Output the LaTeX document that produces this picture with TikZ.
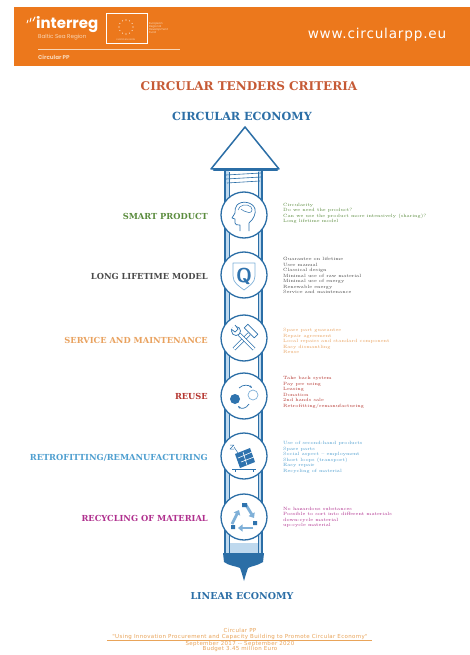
\documentclass[tikz,border=0pt]{standalone}
\usepackage{fontspec}
\newfontfamily\headfont{Poppins}
\newfontfamily\urlfont[LetterSpace=6]{DejaVu Sans}
\newfontfamily\footfont[LetterSpace=6]{DejaVu Sans}
\newfontfamily\labfont{DejaVu Serif}
\usetikzlibrary{arrows.meta}
\definecolor{hdorange}{HTML}{EC781C}
\definecolor{hdpale}{HTML}{F9D6B6}
\definecolor{ttlred}{HTML}{C65A35}
\definecolor{ecoblue}{HTML}{2B6EA6}
\definecolor{paleblue}{HTML}{BFD9EE}
\definecolor{iconblue}{HTML}{2F73AE}
\definecolor{liteblue}{HTML}{7FB0D8}
\definecolor{smartgreen}{HTML}{5B8C3E}
\definecolor{lifegray}{HTML}{4A4A4A}
\definecolor{servorange}{HTML}{E9A25F}
\definecolor{reusered}{HTML}{B5352F}
\definecolor{retroblue}{HTML}{4F9FD0}
\definecolor{recymag}{HTML}{B0308E}
\definecolor{footorange}{HTML}{E9A45A}
\begin{document}
\begin{tikzpicture}[x=1pt,y=-1pt,
    lab/.style={anchor=east,inner sep=0,text=#1,font=\labfont\bfseries\fontsize{8.3}{9}\selectfont},
    txt/.style={anchor=west,inner sep=0,align=left,text=#1,font=\fontsize{4.6}{5.5}\selectfont},
    ring/.style={circle,draw=ecoblue,line width=1.3pt,fill=white,minimum size=46pt,inner sep=0},
    wall/.style={draw=ecoblue,line width=1.5pt},
    thinwall/.style={draw=ecoblue,line width=0.6pt},
    icon/.style={draw=iconblue,line width=0.7pt,line join=round},
    recy/.style={draw=liteblue,line width=2.8pt,-{Triangle[length=4.5pt,width=7pt]}},
    foot/.style={inner sep=0,text=footorange,font=\footfont\fontsize{5.5}{5.5}\selectfont}]
  \useasboundingbox (0,0) rectangle (470,655);
  \fill[white] (0,0) rectangle (470,655);
  % header band
  \fill[hdorange] (14,7) rectangle (470,66);
  \draw[white,line width=0.9pt,line cap=round] (27,23) -- (28,20) (30,22) -- (31,18) (33,21) -- (35,17);
  \node[anchor=west,inner sep=0,text=white,font=\headfont\bfseries\fontsize{15}{15}\selectfont] (interreg) at (36,25) {interreg};
  \node[anchor=west,inner sep=0,text=hdpale,font=\headfont\fontsize{5.6}{6}\selectfont] (baltic) at (38,37) {Baltic Sea Region};
  \draw[white,line width=0.6pt] (106,13) rectangle (147,43);
  \foreach \a in {0,30,...,330}
    \fill[white,shift={(126,27)}] (\a:7) circle (0.55pt);
  \node[inner sep=0,text=hdpale,font=\headfont\fontsize{2.2}{2.4}\selectfont] (eu) at (126,40) {EUROPEAN UNION};
  \node[txt=hdpale,font=\headfont\fontsize{2.8}{3.2}\selectfont] (erdf) at (149,28) {European\\Regional\\Development\\Fund};
  \draw[hdpale,line width=0.4pt] (38,49) -- (180,49);
  \node[anchor=west,inner sep=0,text=hdpale,font=\headfont\bfseries\fontsize{5.6}{6}\selectfont] (cpp) at (38,57) {Circular PP};
  \node[inner sep=0,text=white,font=\urlfont\fontsize{13.6}{14}\selectfont] (url) at (377,35) {www.circularpp.eu};
  % titles
  \node[text=ttlred,font=\labfont\bfseries\fontsize{12}{13}\selectfont] (title) at (249,86) {CIRCULAR TENDERS CRITERIA};
  \node[text=ecoblue,font=\labfont\bfseries\fontsize{11.2}{12}\selectfont] (circ) at (242,116) {CIRCULAR ECONOMY};
  \node[text=ecoblue,font=\labfont\bfseries\fontsize{9.5}{11}\selectfont] (lin) at (242,596) {LINEAR ECONOMY};
  % shaft
  \fill[paleblue] (225,168) rectangle (229,553) (258,168) rectangle (262,553);
  \fill[paleblue] (229,543) rectangle (258,553);
  \draw[wall] (225,168) -- (225,554);
  \draw[wall] (262,168) -- (262,554);
  \draw[thinwall] (229,172) -- (229,553);
  \draw[thinwall] (258,172) -- (258,553);
  \fill[ecoblue] (223,553) -- (264,553) -- (263,562) .. controls (257,566) and (251,566) .. (248,568)
    -- (246,574) -- (244,581) -- (242,574) -- (240,568) .. controls (236,566) and (229,566) .. (224,562) -- cycle;
  % arrow head
  \draw[wall,fill=white,line join=round] (245,127) -- (279,169) -- (211,169) -- cycle;
  \draw[ecoblue,line width=2.6pt,line cap=round] (214,170) -- (277,170);
  \draw[thinwall] (226,175) -- (261,173) (226,179) -- (261,177) (227,183) -- (260,181);
  % rings
  \node[ring] (smart) at (244,215) {};
  \node[ring] (life) at (244,275) {};
  \node[ring] (serv) at (244,338) {};
  \node[ring] (reuse) at (244,396) {};
  \node[ring] (retro) at (244,456) {};
  \node[ring] (recy) at (244,517) {};
  % icons
  \begin{scope}[shift={(smart)}]
    \draw[icon] (5,16) -- (5,8) .. controls (10,4) and (12,-2) .. (11,-6) .. controls (9,-13) and (-2,-15) .. (-7,-10)
      .. controls (-9,-8) and (-9,-5) .. (-9,-2) -- (-12,3) -- (-9,4) -- (-9,8) .. controls (-9,10) and (-7,10) .. (-4,10) -- (-4,16);
    \draw[icon,line width=0.5pt] (-6,-5) .. controls (-5,-10) and (3,-12) .. (7,-8) .. controls (10,-4) and (6,-1) .. (3,-3)
      .. controls (1,-5) and (-2,-3) .. (-3,-6);
  \end{scope}
  \begin{scope}[shift={(life)}]
    \draw[icon,draw=liteblue] (-11,-12) -- (11,-12) -- (11,1) .. controls (11,8) and (5,11) .. (0,15)
      .. controls (-5,11) and (-11,8) .. (-11,1) -- cycle;
    \node[inner sep=0,text=iconblue,font=\sffamily\bfseries\fontsize{20}{20}\selectfont] (qmark) at (0,1) {Q};
  \end{scope}
  \begin{scope}[shift={(serv)}]
    \draw[icon,double=white,double distance=2.4pt,line width=0.6pt] (-10,11) -- (5,-4);
    \draw[icon,fill=white] (3.8,-13.8) -- (13.8,-3.8) -- (10.2,-0.2) -- (0.2,-10.2) -- cycle;
    \draw[icon,double=white,double distance=2.4pt,line width=0.6pt] (10,11) -- (-5,-4);
    \draw[icon,fill=white] (-8,-7) circle (4.5pt);
    \draw[icon,fill=white] (-13,-9) -- (-9,-6) -- (-6,-9) -- (-9,-13);
  \end{scope}
  \begin{scope}[shift={(reuse)}]
    \fill[iconblue] (-9,3) circle (5pt);
    \draw[icon,draw=liteblue] (9,-1) circle (5pt);
    \draw[icon,-{Stealth[length=3pt]}] (-5,-8) .. controls (-1,-12) and (5,-11) .. (8,-8);
    \draw[icon,-{Stealth[length=3pt]}] (5,8) .. controls (2,13) and (-3,13) .. (-6,10);
  \end{scope}
  \begin{scope}[shift={(retro)}]
    \draw[icon] (-12,13) -- (12,13) (-9,13) -- (-9,16) (9,13) -- (9,16);
    \fill[iconblue] (-9,-2) -- (6,-8) -- (11,6) -- (-4,12) -- cycle;
    \draw[white,line width=0.6pt] (-6,2) -- (8,-4) (-3,6) -- (10,1) (-1,-4) -- (3,9);
    \draw[icon,line width=0.5pt] (-14,-11) -- (-10,-11) -- (-14,-7) -- (-10,-7) (-10,-9) -- (-6,-3);
  \end{scope}
  \begin{scope}[shift={(recy)}]
    \draw[recy] (2,-12) -- (10,1);
    \draw[recy] (9,11) -- (-6,11);
    \draw[recy] (-12,7) -- (-5,-7);
    \fill[iconblue] (-2,-14) rectangle (3,-10) (9,4) rectangle (13,8) (-13,8) rectangle (-9,12);
  \end{scope}
  % left labels
  \node[lab=smartgreen] (smartlab) at (208,216) {SMART PRODUCT};
  \node[lab=lifegray] (lifelab) at (208,276) {LONG LIFETIME MODEL};
  \node[lab=servorange] (servlab) at (208,340) {SERVICE AND MAINTENANCE};
  \node[lab=reusered] (reuselab) at (208,396) {REUSE};
  \node[lab=retroblue] (retrolab) at (208,458) {RETROFITTING/REMANUFACTURING};
  \node[lab=recymag] (recylab) at (208,518) {RECYCLING OF MATERIAL};
  % right texts
  \node[txt=smartgreen] (smarttxt) at (283,213.5) {Circularity\\Do we need the product?\\Can we use the product more intensively (sharing)?\\Long lifetime model};
  \node[txt=lifegray] (lifetxt) at (283,275.5) {Guarantee on lifetime\\User manual\\Classical design\\Minimal use of raw material\\Minimal use of energy\\Renewable energy\\Service and maintenance};
  \node[txt=servorange] (servtxt) at (283,341) {Spare part guarantee\\Repair agreement\\Local repairs and standard component\\Easy dismantling\\Reuse};
  \node[txt=reusered] (reusetxt) at (283,392.5) {Take back system\\Pay per using\\Leasing\\Donation\\2nd hands sale\\Retrofitting/remanufacturing};
  \node[txt=retroblue] (retrotxt) at (283,457.5) {Use of second-hand products\\Spare parts\\Social aspect -- employment\\Short loops (transport)\\Easy repair\\Recycling of material};
  \node[txt=recymag] (recytxt) at (283,517.5) {No hazardous substances\\Possible to sort into different materials\\down-cycle material\\up-cycle material};
  % footer
  \node[foot] (fcpp) at (240,630) {Circular PP};
  \node[foot] (fname) at (240,636.5) {"Using Innovation Procurement and Capacity Building to Promote Circular Economy"};
  \draw[footorange,line width=0.4pt] (107,640) -- (372,640);
  \node[foot] (fdate) at (240,644) {September 2017 -- September 2020};
  \node[foot] (fbud) at (240,648.5) {Budget 3.45 million Euro};
\end{tikzpicture}
\end{document}
